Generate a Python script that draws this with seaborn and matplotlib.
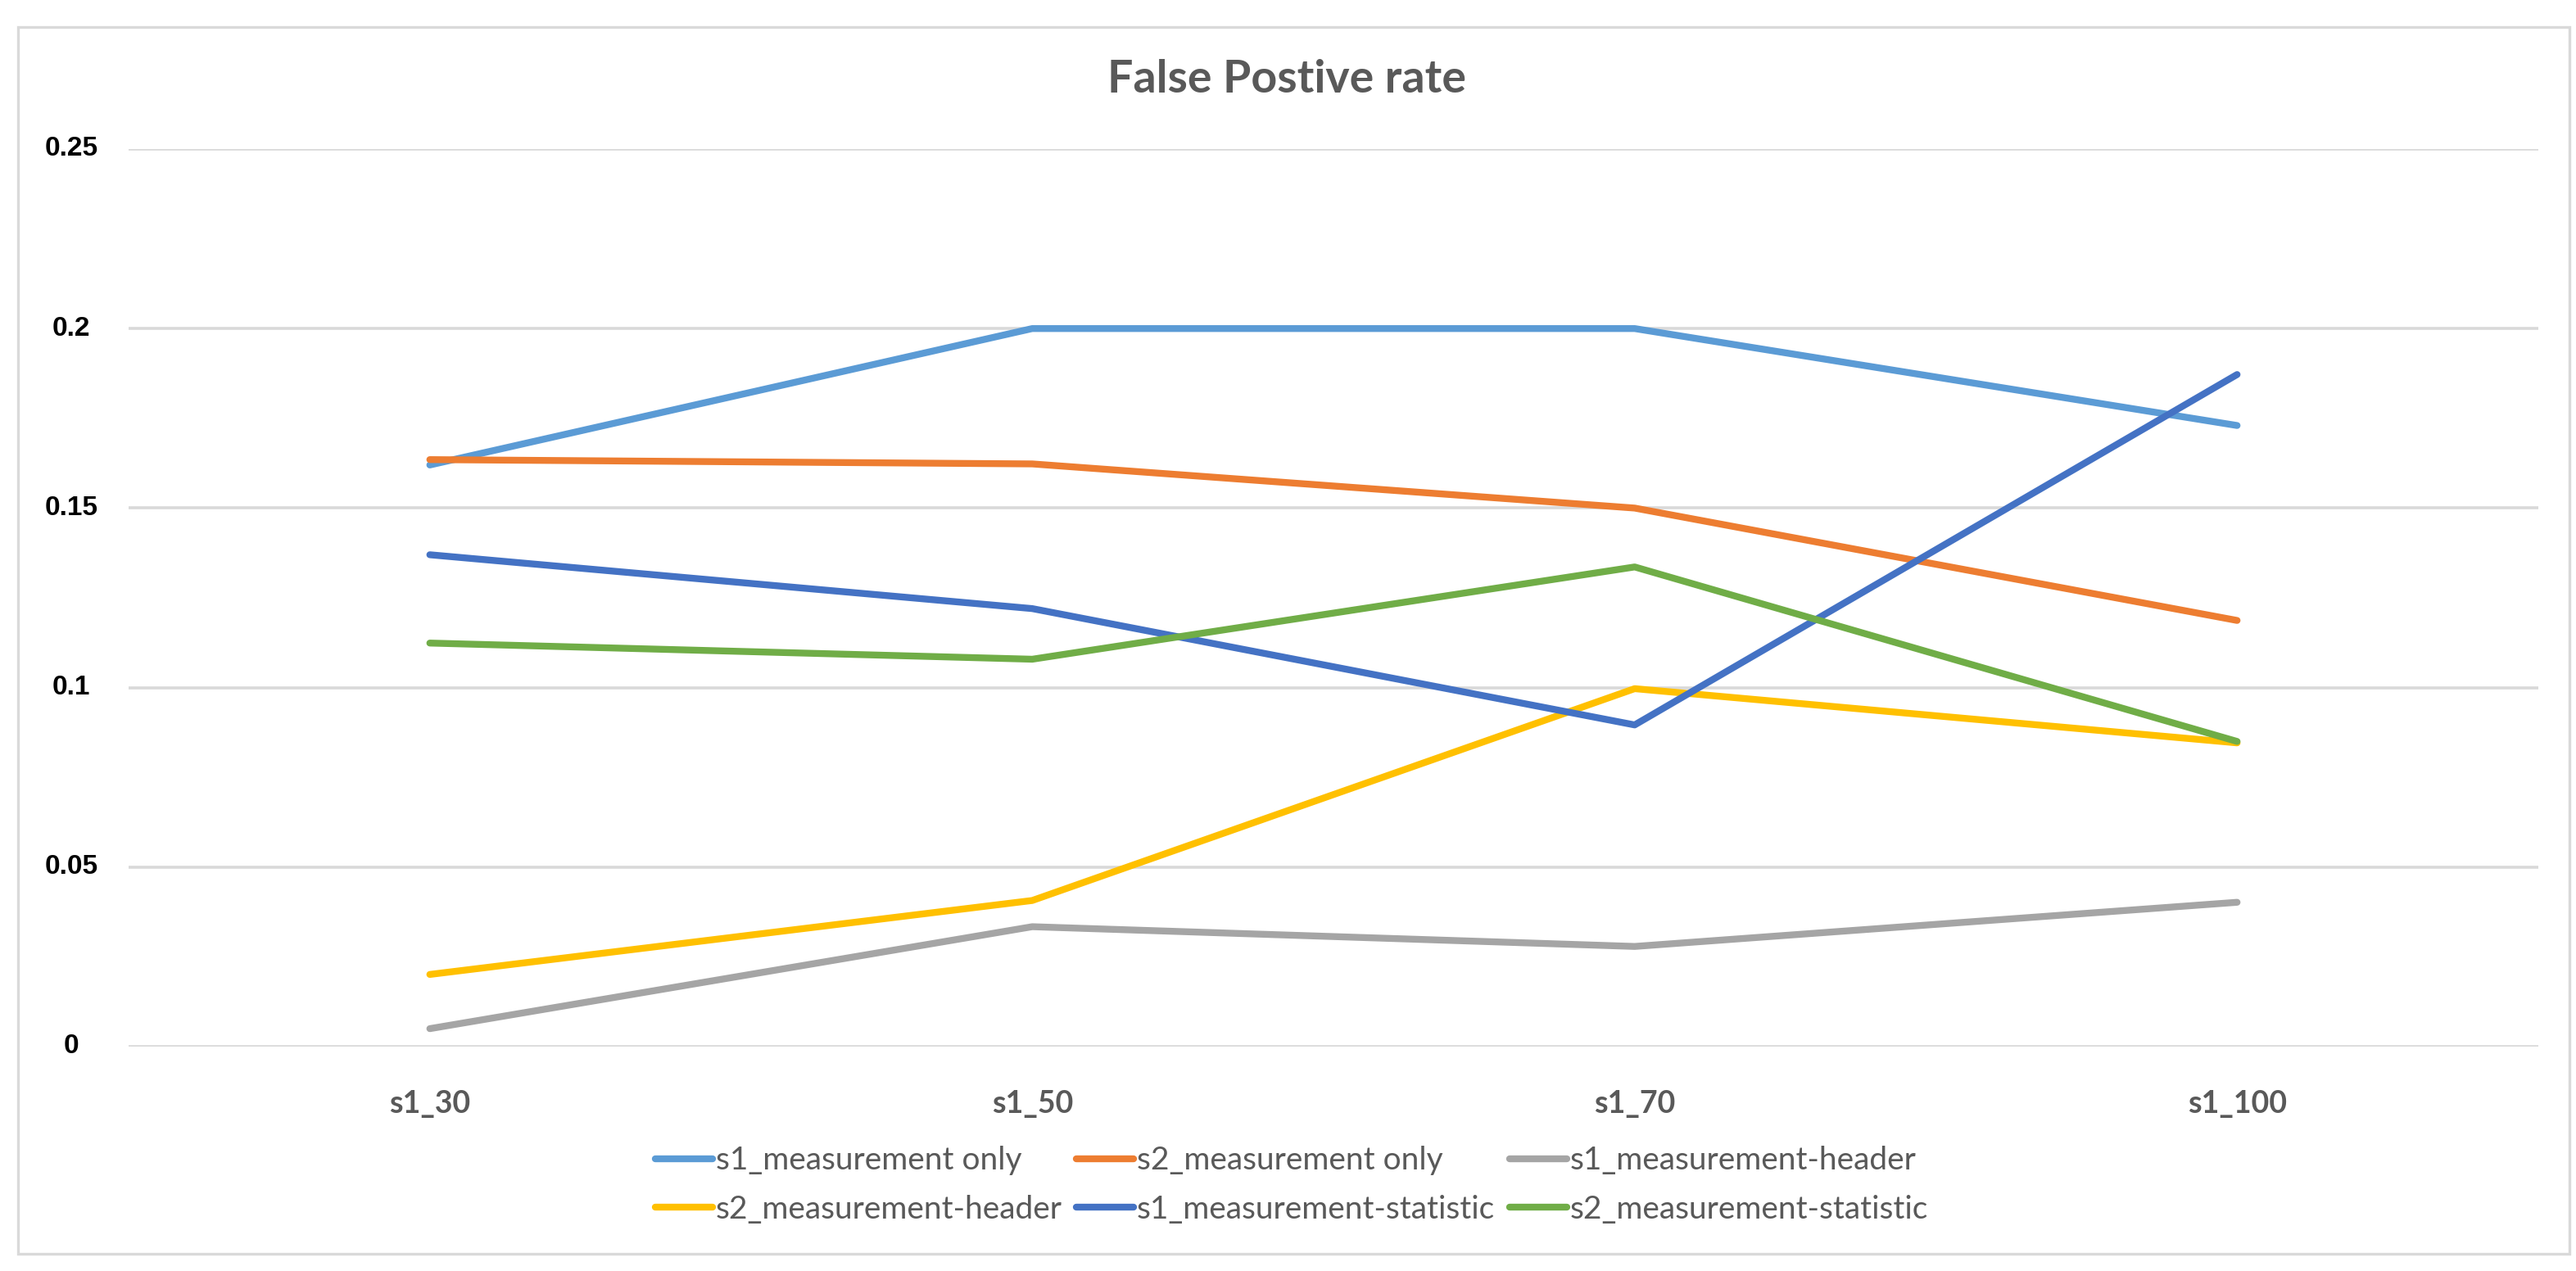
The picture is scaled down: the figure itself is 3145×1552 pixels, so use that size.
import matplotlib
matplotlib.use("Agg")
import matplotlib.pyplot as plt
import seaborn as sns
import pandas as pd
from matplotlib.patches import Rectangle

# ---- data ----
categories = ["s1_30", "s1_50", "s1_70", "s1_100"]
series_names = [
    "s1_measurement only",
    "s2_measurement only",
    "s1_measurement-header",
    "s2_measurement-header",
    "s1_measurement-statistic",
    "s2_measurement-statistic",
]
s1_measurement_only = [0.162, 0.200, 0.200, 0.173]
s2_measurement_only = [0.1635, 0.1623, 0.150, 0.1187]
s1_measurement_header = [0.005, 0.0334, 0.0279, 0.0402]
s2_measurement_header = [0.0201, 0.0407, 0.0997, 0.0846]
s1_measurement_statistic = [0.137, 0.122, 0.0896, 0.1872]
s2_measurement_statistic = [0.1124, 0.1079, 0.1336, 0.0850]
yticks = [0, 0.05, 0.1, 0.15, 0.2, 0.25]
ytick_labels = ["0", "0.05", "0.1", "0.15", "0.2", "0.25"]
title = "False Postive rate"

colors = ["#5B9BD5", "#ED7D31", "#A5A5A5", "#FFC000", "#4472C4", "#70AD47"]

all_values = [s1_measurement_only, s2_measurement_only, s1_measurement_header,
              s2_measurement_header, s1_measurement_statistic, s2_measurement_statistic]
rows = []
for name, vals in zip(series_names, all_values):
    for c, v in zip(categories, vals):
        rows.append({"category": c, "series": name, "value": v})
df = pd.DataFrame(rows)

# ---- figure ----
W, H = 3145, 1552
dpi = 100
sns.set_theme(style="white")
plt.rcParams["font.family"] = ["Lato", "DejaVu Sans"]

fig = plt.figure(figsize=(W / dpi, H / dpi), dpi=dpi)
fig.patch.set_facecolor("white")

def fx(px):
    return px / W

def fy(py):
    return 1 - py / H

ax = fig.add_axes([fx(157), fy(1278), fx(3099) - fx(157), fy(182) - fy(1278)])

LW = 6.0
sns.lineplot(data=df, x="category", y="value", hue="series", hue_order=series_names,
             palette=colors, sort=False, linewidth=LW, ax=ax, estimator=None,
             solid_capstyle="round", solid_joinstyle="round")

ax.set_xlim(-0.5, len(categories) - 0.5)
ax.set_ylim(0, 0.25)
ax.set_yticks(yticks)
ax.set_yticklabels([])
ax.grid(False)
for y in yticks:
    ax.axhline(y, color="#D9D9D9", linewidth=2.6, zorder=0)
for sp in ax.spines.values():
    sp.set_visible(False)
ax.tick_params(axis="both", length=0)
ax.set_xlabel("")
ax.set_ylabel("")
ax.set_xticks(range(len(categories)))
ax.set_xticklabels(categories, fontsize=27, fontweight="bold", color="#595959")
ax.tick_params(axis="x", pad=38)

# y tick labels, centered like the reference
ytrans = matplotlib.transforms.blended_transform_factory(fig.transFigure, ax.transData)
for y, lab in zip(yticks, ytick_labels):
    ax.text(fx(87), y, lab, transform=ytrans, ha="center", va="center", fontsize=24,
            fontweight="bold", color="black", family=["Liberation Sans", "DejaVu Sans"],
            clip_on=False)

fig.text(fx(1571), fy(97), title, ha="center", va="center", fontsize=40,
         fontweight="bold", color="#595959")

# legend
handles, labels = ax.get_legend_handles_labels()
if ax.get_legend() is not None:
    ax.get_legend().remove()
order = [0, 3, 1, 4, 2, 5]
leg = fig.legend([handles[i] for i in order], [labels[i] for i in order], ncol=3,
                 loc="center", bbox_to_anchor=(fx(1577), fy(1447)), frameon=False,
                 fontsize=28, handlelength=1.8, handletextpad=0.1, columnspacing=0.45,
                 labelspacing=0.6, labelcolor="#595959")
for lh in leg.get_lines():
    lh.set_linewidth(LW)
    lh.set_solid_capstyle("round")

# outer border
fig.patches.append(Rectangle((fx(22), fy(1531)), fx(3137) - fx(22), fy(33) - fy(1531),
                             transform=fig.transFigure, fill=False, edgecolor="#D9D9D9",
                             linewidth=2.4))

fig.savefig("out.png", dpi=dpi, facecolor="white")
